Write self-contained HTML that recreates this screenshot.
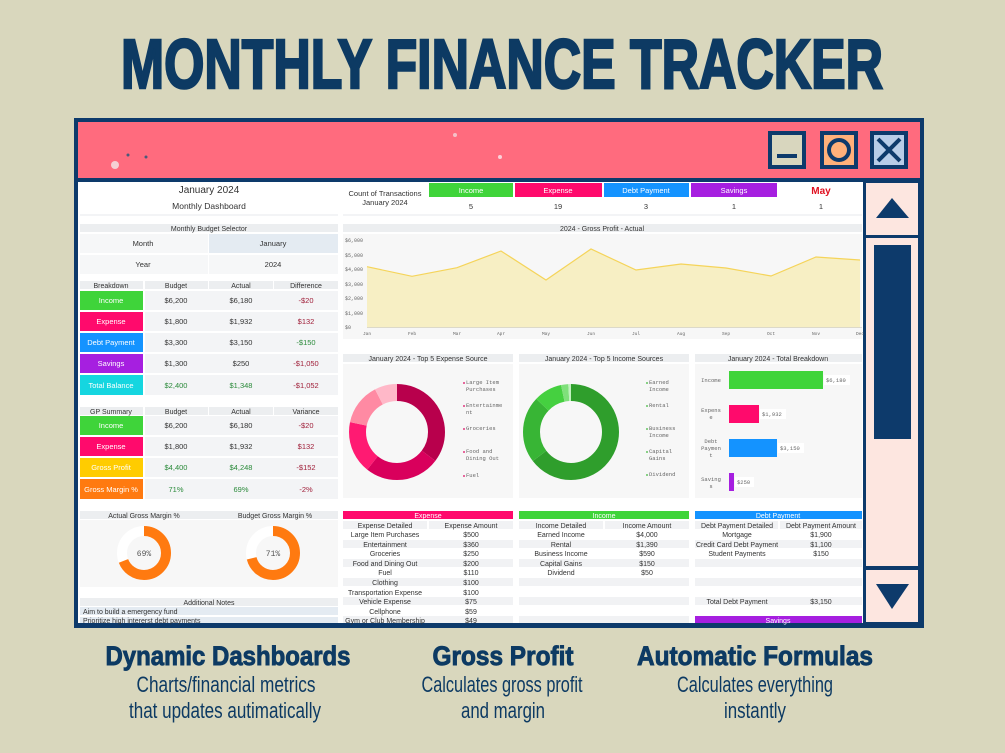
<!DOCTYPE html>
<html><head><meta charset="utf-8"><style>
html,body{margin:0;padding:0;background:#d9d7bd;}
svg{display:block;font-family:"Liberation Sans",sans-serif;}
.m{font-family:"Liberation Mono",monospace;}
</style></head><body>
<svg width="1005" height="753" viewBox="0 0 1005 753" xmlns="http://www.w3.org/2000/svg">
<rect width="1005" height="753" fill="#d9d7bd"/>
<text x="502" y="88" text-anchor="middle" font-size="70" font-weight="bold" fill="#0d3a63" stroke="#0d3a63" stroke-width="2.5" textLength="762" lengthAdjust="spacingAndGlyphs">MONTHLY FINANCE TRACKER</text>

<!-- window -->
<rect x="74" y="118" width="850" height="510" fill="#0d3a6b"/>
<rect x="78" y="122" width="842" height="56" fill="#ff6b7e"/>
<circle cx="115" cy="165" r="4" fill="#f5d0d4"/><circle cx="128" cy="155" r="1.5" fill="#4a5a7a"/><circle cx="146" cy="157" r="1.5" fill="#4a5a7a"/><circle cx="455" cy="135" r="2" fill="#f5c0c8"/><circle cx="500" cy="157" r="2" fill="#fbd0d8"/>
<!-- buttons -->
<rect x="768" y="131" width="38" height="38" fill="#0d3a6b"/><rect x="772" y="135" width="30" height="30" fill="#d8d6be"/><rect x="777" y="154" width="20" height="4" fill="#0d3a6b"/>
<rect x="820" y="131" width="38" height="38" fill="#0d3a6b"/><rect x="824" y="135" width="30" height="30" fill="#ffb07a"/><circle cx="839" cy="150" r="10" fill="none" stroke="#0d3a6b" stroke-width="4"/>
<rect x="870" y="131" width="38" height="38" fill="#0d3a6b"/><rect x="874" y="135" width="30" height="30" fill="#b8cde8"/><path d="M878 139 L900 161 M900 139 L878 161" stroke="#0d3a6b" stroke-width="4"/>
<!-- scrollbar -->
<rect x="866" y="183" width="52" height="52" fill="#fde6e0"/><path d="M876 218 L892 198 L909 218 Z" fill="#0d3a6b"/>
<rect x="866" y="238" width="52" height="328" fill="#fde6e0"/><rect x="874" y="245" width="37" height="194" fill="#0d3a6b"/>
<rect x="866" y="570" width="52" height="52" fill="#fde6e0"/><path d="M876 584 L909 584 L892 609 Z" fill="#0d3a6b"/>
<!-- content -->
<rect x="78" y="182" width="785" height="441" fill="#ffffff"/>

<g font-size="8" fill="#333" text-anchor="middle">
<text x="209" y="193" font-size="10">January 2024</text>
<text x="209" y="209" font-size="8.5">Monthly Dashboard</text>
<rect x="80" y="214" width="258" height="2" fill="#f3f4f6"/>
<rect x="80" y="224" width="258" height="8" fill="#eceef0"/><text x="209" y="231" font-size="7">Monthly Budget Selector</text>
<rect x="80" y="234" width="128" height="19" fill="#f6f7f8"/><rect x="209" y="234" width="129" height="19" fill="#e4ebf2"/>
<rect x="80" y="255" width="128" height="19" fill="#f6f7f8"/><rect x="209" y="255" width="129" height="19" fill="#f6f7f8"/>
<text x="143" y="246" font-size="7.5">Month</text><text x="273" y="246" font-size="7.5">January</text>
<text x="143" y="267" font-size="7.5">Year</text><text x="273" y="267" font-size="7.5">2024</text>
<g fill="#eceef0"><rect x="80" y="281" width="63" height="8"/><rect x="145" y="281" width="63" height="8"/><rect x="209" y="281" width="64" height="8"/><rect x="274" y="281" width="64" height="8"/></g>
<text x="111" y="288" font-size="7">Breakdown</text><text x="176" y="288" font-size="7">Budget</text><text x="241" y="288" font-size="7">Actual</text><text x="306" y="288" font-size="7">Difference</text>
<g fill="#f3f4f6"><rect x="145" y="291" width="193" height="19"/><rect x="145" y="312" width="193" height="19"/><rect x="145" y="333" width="193" height="19"/><rect x="145" y="354" width="193" height="19"/><rect x="145" y="375" width="193" height="20"/></g>
<rect x="80" y="291" width="63" height="19" fill="#3fd43a"/><rect x="80" y="312" width="63" height="19" fill="#ff0a6c"/><rect x="80" y="333" width="63" height="19" fill="#1493ff"/><rect x="80" y="354" width="63" height="19" fill="#a61fe0"/><rect x="80" y="375" width="63" height="20" fill="#15d6e0"/>
<g fill="#fff" font-size="7.5"><text x="111" y="303">Income</text><text x="111" y="324">Expense</text><text x="111" y="345">Debt Payment</text><text x="111" y="366">Savings</text><text x="111" y="388">Total Balance</text></g>
<g font-size="7.5"><text x="176" y="303">$6,200</text><text x="241" y="303">$6,180</text><text x="306" y="303" fill="#a0203a">-$20</text>
<text x="176" y="324">$1,800</text><text x="241" y="324">$1,932</text><text x="306" y="324" fill="#a0203a">$132</text>
<text x="176" y="345">$3,300</text><text x="241" y="345">$3,150</text><text x="306" y="345" fill="#2a8a3a">-$150</text>
<text x="176" y="366">$1,300</text><text x="241" y="366">$250</text><text x="306" y="366" fill="#a0203a">-$1,050</text>
<text x="176" y="388" fill="#2a8a3a">$2,400</text><text x="241" y="388" fill="#2a8a3a">$1,348</text><text x="306" y="388" fill="#a0203a">-$1,052</text></g>
<g fill="#eceef0"><rect x="80" y="407" width="63" height="8"/><rect x="145" y="407" width="63" height="8"/><rect x="209" y="407" width="64" height="8"/><rect x="274" y="407" width="64" height="8"/></g>
<text x="111" y="414" font-size="7">GP Summary</text><text x="176" y="414" font-size="7">Budget</text><text x="241" y="414" font-size="7">Actual</text><text x="306" y="414" font-size="7">Variance</text>
<g fill="#f3f4f6"><rect x="145" y="416" width="193" height="19"/><rect x="145" y="437" width="193" height="19"/><rect x="145" y="458" width="193" height="19"/><rect x="145" y="479" width="193" height="20"/></g>
<rect x="80" y="416" width="63" height="19" fill="#3fd43a"/><rect x="80" y="437" width="63" height="19" fill="#ff0a6c"/><rect x="80" y="458" width="63" height="19" fill="#ffcc00"/><rect x="80" y="479" width="63" height="20" fill="#ff7a10"/>
<g fill="#fff" font-size="7.5"><text x="111" y="428">Income</text><text x="111" y="449">Expense</text><text x="111" y="470">Gross Profit</text><text x="111" y="492">Gross Margin %</text></g>
<g font-size="7.5"><text x="176" y="428">$6,200</text><text x="241" y="428">$6,180</text><text x="306" y="428" fill="#a0203a">-$20</text>
<text x="176" y="449">$1,800</text><text x="241" y="449">$1,932</text><text x="306" y="449" fill="#a0203a">$132</text>
<text x="176" y="470" fill="#2a8a3a">$4,400</text><text x="241" y="470" fill="#2a8a3a">$4,248</text><text x="306" y="470" fill="#a0203a">-$152</text>
<text x="176" y="492" fill="#2a8a3a">71%</text><text x="241" y="492" fill="#2a8a3a">69%</text><text x="306" y="492" fill="#a0203a">-2%</text></g>
<rect x="80" y="511" width="258" height="8" fill="#eceef0"/><text x="144" y="518" font-size="7">Actual  Gross Margin %</text><text x="275" y="518" font-size="7">Budget  Gross Margin %</text>
<rect x="80" y="520" width="258" height="67" fill="#f7f7f7"/>
<circle cx="144" cy="553" r="22" fill="none" stroke="#fff" stroke-width="10"/>
<circle cx="144" cy="553" r="22" fill="none" stroke="#ff7a10" stroke-width="10" stroke-dasharray="95.4 200" transform="rotate(-90 144 553)"/>
<text x="144" y="556" class="m" font-size="8" fill="#555">69%</text>
<circle cx="273" cy="553" r="22" fill="none" stroke="#fff" stroke-width="10"/>
<circle cx="273" cy="553" r="22" fill="none" stroke="#ff7a10" stroke-width="10" stroke-dasharray="98.1 200" transform="rotate(-90 273 553)"/>
<text x="273" y="556" class="m" font-size="8" fill="#555">71%</text>
<rect x="80" y="598" width="258" height="8" fill="#eceef0"/><text x="209" y="605" font-size="7">Additional Notes</text>
<rect x="80" y="607" width="258" height="8" fill="#e4ebf2"/><text x="83" y="614" font-size="7" text-anchor="start">Aim to build a emergency fund</text>
<rect x="80" y="617" width="258" height="6" fill="#e4ebf2"/><text x="83" y="623" font-size="7" text-anchor="start">Prioritize high intererst debt payments</text>

<text x="385" y="196" font-size="7.5">Count of Transactions</text><text x="385" y="205" font-size="7.5">January 2024</text>
<rect x="429" y="183" width="84" height="14" fill="#3fd43a"/><rect x="515" y="183" width="87" height="14" fill="#ff0a6c"/><rect x="604" y="183" width="85" height="14" fill="#1493ff"/><rect x="691" y="183" width="86" height="14" fill="#a61fe0"/>
<g fill="#fff" font-size="7.5"><text x="471" y="193">Income</text><text x="558" y="193">Expense</text><text x="646" y="193">Debt Payment</text><text x="734" y="193">Savings</text></g>
<text x="821" y="194" font-size="10" font-weight="bold" fill="#e01020">May</text>
<g font-size="7.5"><text x="471" y="209">5</text><text x="558" y="209">19</text><text x="646" y="209">3</text><text x="734" y="209">1</text><text x="821" y="209">1</text></g>
<rect x="343" y="214" width="519" height="2" fill="#f3f4f6"/>

<rect x="343" y="224" width="519" height="8" fill="#eceef0"/><text x="602" y="231" font-size="7">2024 - Gross Profit - Actual</text>
<rect x="343" y="234" width="519" height="105" fill="#f7f7f7"/>
<g class="m" font-size="5" fill="#666" text-anchor="start"><text x="345" y="242">$6,000</text><text x="345" y="257">$5,000</text><text x="345" y="271">$4,000</text><text x="345" y="286">$3,000</text><text x="345" y="300">$2,000</text><text x="345" y="315">$1,000</text><text x="345" y="329">$0</text></g>
<path d="M367 327.7 L367 266.7 L412 276.3 L457 267.7 L501 251 L546 280 L591 249 L636 270 L681 264 L726 268 L771 276 L816 257 L860 260 L860 327.7 Z" fill="#f7efc4"/>
<path d="M367 266.7 L412 276.3 L457 267.7 L501 251 L546 280 L591 249 L636 270 L681 264 L726 268 L771 276 L816 257 L860 260" fill="none" stroke="#f5d45a" stroke-width="1.2"/>
<line x1="367" y1="327.7" x2="862" y2="327.7" stroke="#ccc" stroke-width="0.6"/>
<g class="m" font-size="4.5" fill="#666"><text x="367" y="335">Jan</text><text x="412" y="335">Feb</text><text x="457" y="335">Mar</text><text x="501" y="335">Apr</text><text x="546" y="335">May</text><text x="591" y="335">Jun</text><text x="636" y="335">Jul</text><text x="681" y="335">Aug</text><text x="726" y="335">Sep</text><text x="771" y="335">Oct</text><text x="816" y="335">Nov</text><text x="860" y="335">Dec</text></g>

<rect x="343" y="354" width="170" height="8" fill="#eceef0"/><text x="428" y="361" font-size="7">January 2024 - Top 5 Expense Source</text>
<rect x="519" y="354" width="170" height="8" fill="#eceef0"/><text x="604" y="361" font-size="7">January 2024 - Top 5 Income Sources</text>
<rect x="695" y="354" width="167" height="8" fill="#eceef0"/><text x="778" y="361" font-size="7">January 2024 - Total Breakdown</text>
<rect x="343" y="364" width="170" height="134" fill="#f7f7f7"/><rect x="519" y="364" width="170" height="134" fill="#f7f7f7"/><rect x="695" y="364" width="167" height="134" fill="#f7f7f7"/>
<g transform="rotate(-90 397 432)" fill="none" stroke-width="17">
<circle cx="397" cy="432" r="39.5" stroke="#b8004c" stroke-dasharray="87.4 300"/>
<circle cx="397" cy="432" r="39.5" stroke="#d9005c" stroke-dasharray="62.9 300" stroke-dashoffset="-87.4"/>
<circle cx="397" cy="432" r="39.5" stroke="#ff1a72" stroke-dasharray="43.7 300" stroke-dashoffset="-150.3"/>
<circle cx="397" cy="432" r="39.5" stroke="#ff8aa3" stroke-dasharray="35 300" stroke-dashoffset="-194"/>
<circle cx="397" cy="432" r="39.5" stroke="#ffb8c8" stroke-dasharray="19.2 300" stroke-dashoffset="-229"/>
</g>
<g class="m" font-size="5.5" fill="#666" text-anchor="start"><text x="466" y="384">Large Item</text><text x="466" y="391">Purchases</text><text x="466" y="407">Entertainme</text><text x="466" y="414">nt</text><text x="466" y="430">Groceries</text><text x="466" y="453">Food and</text><text x="466" y="460">Dining Out</text><text x="466" y="477">Fuel</text></g>
<g fill="#d9005c"><circle cx="464" cy="383" r="0.9"/><circle cx="464" cy="406" r="0.9"/><circle cx="464" cy="429" r="0.9"/><circle cx="464" cy="452" r="0.9"/><circle cx="464" cy="476" r="0.9"/></g>
<g transform="rotate(-90 571 432)" fill="none" stroke-width="17">
<circle cx="571" cy="432" r="39.5" stroke="#2f9e2c" stroke-dasharray="160.2 300"/>
<circle cx="571" cy="432" r="39.5" stroke="#38b535" stroke-dasharray="55.7 300" stroke-dashoffset="-160.2"/>
<circle cx="571" cy="432" r="39.5" stroke="#45d040" stroke-dasharray="23.6 300" stroke-dashoffset="-215.9"/>
<circle cx="571" cy="432" r="39.5" stroke="#7fe07a" stroke-dasharray="6 300" stroke-dashoffset="-239.5"/>
<circle cx="571" cy="432" r="39.5" stroke="#c2f2bf" stroke-dasharray="2.7 300" stroke-dashoffset="-245.5"/>
</g>
<g class="m" font-size="5.5" fill="#666" text-anchor="start"><text x="649" y="384">Earned</text><text x="649" y="391">Income</text><text x="649" y="407">Rental</text><text x="649" y="430">Business</text><text x="649" y="437">Income</text><text x="649" y="453">Capital</text><text x="649" y="460">Gains</text><text x="649" y="476">Dividend</text></g>
<g fill="#38b535"><circle cx="647" cy="383" r="0.9"/><circle cx="647" cy="406" r="0.9"/><circle cx="647" cy="429" r="0.9"/><circle cx="647" cy="452" r="0.9"/><circle cx="647" cy="475" r="0.9"/></g>
<g class="m" font-size="5.5" fill="#666"><text x="711" y="382">Income</text><text x="711" y="412">Expens</text><text x="711" y="419">e</text><text x="711" y="443">Debt</text><text x="711" y="450">Paymen</text><text x="711" y="457">t</text><text x="711" y="481">Saving</text><text x="711" y="488">s</text></g>
<rect x="729" y="371" width="94" height="18" fill="#3fd43a"/><rect x="729" y="405" width="30" height="18" fill="#ff0a6c"/><rect x="729" y="439" width="48" height="18" fill="#1493ff"/><rect x="729" y="473" width="5" height="18" fill="#a61fe0"/>
<g class="m" font-size="5.5" fill="#666" text-anchor="start"><rect x="824" y="375" width="26" height="10" fill="#fff"/><text x="826" y="382">$6,180</text><rect x="760" y="409" width="26" height="10" fill="#fff"/><text x="762" y="416">$1,932</text><rect x="778" y="443" width="26" height="10" fill="#fff"/><text x="780" y="450">$3,150</text><rect x="735" y="477" width="19" height="10" fill="#fff"/><text x="737" y="484">$250</text></g>

<rect x="343" y="511" width="170" height="8" fill="#ff0a6c"/><text x="428" y="518" font-size="7" fill="#fff">Expense</text>
<rect x="519" y="511" width="170" height="8" fill="#3fd43a"/><text x="604" y="518" font-size="7" fill="#fff">Income</text>
<rect x="695" y="511" width="167" height="8" fill="#1493ff"/><text x="778" y="518" font-size="7" fill="#fff">Debt Payment</text>
<g fill="#f1f2f4">
<rect x="343" y="521" width="84" height="8"/><rect x="429" y="521" width="84" height="8"/><rect x="519" y="521" width="84" height="8"/><rect x="605" y="521" width="84" height="8"/><rect x="695" y="521" width="83" height="8"/><rect x="780" y="521" width="82" height="8"/>
<rect x="343" y="540" width="170" height="8"/><rect x="343" y="559" width="170" height="8"/><rect x="343" y="578" width="170" height="8"/><rect x="343" y="597" width="170" height="8"/><rect x="343" y="616" width="170" height="7"/>
<rect x="519" y="540" width="170" height="8"/><rect x="519" y="559" width="170" height="8"/><rect x="519" y="578" width="170" height="8"/><rect x="519" y="597" width="170" height="8"/><rect x="519" y="616" width="170" height="7"/>
<rect x="695" y="540" width="167" height="8"/><rect x="695" y="559" width="167" height="8"/><rect x="695" y="578" width="167" height="8"/><rect x="695" y="597" width="167" height="8"/>
</g>
<g font-size="7">
<text x="385" y="528">Expense Detailed</text><text x="471" y="528">Expense Amount</text>
<text x="385" y="537">Large Item Purchases</text><text x="471" y="537">$500</text>
<text x="385" y="547">Entertainment</text><text x="471" y="547">$360</text>
<text x="385" y="556">Groceries</text><text x="471" y="556">$250</text>
<text x="385" y="566">Food and Dining Out</text><text x="471" y="566">$200</text>
<text x="385" y="575">Fuel</text><text x="471" y="575">$110</text>
<text x="385" y="585">Clothing</text><text x="471" y="585">$100</text>
<text x="385" y="595">Transportation Expense</text><text x="471" y="595">$100</text>
<text x="385" y="604">Vehicle Expense</text><text x="471" y="604">$75</text>
<text x="385" y="614">Cellphone</text><text x="471" y="614">$59</text>
<text x="385" y="623">Gym or Club Membership</text><text x="471" y="623">$49</text>
<text x="561" y="528">Income Detailed</text><text x="647" y="528">Income Amount</text>
<text x="561" y="537">Earned Income</text><text x="647" y="537">$4,000</text>
<text x="561" y="547">Rental</text><text x="647" y="547">$1,390</text>
<text x="561" y="556">Business Income</text><text x="647" y="556">$590</text>
<text x="561" y="566">Capital Gains</text><text x="647" y="566">$150</text>
<text x="561" y="575">Dividend</text><text x="647" y="575">$50</text>
<text x="737" y="528">Debt Payment Detailed</text><text x="821" y="528">Debt Payment Amount</text>
<text x="737" y="537">Mortgage</text><text x="821" y="537">$1,900</text>
<text x="737" y="547">Credit Card Debt Payment</text><text x="821" y="547">$1,100</text>
<text x="737" y="556">Student Payments</text><text x="821" y="556">$150</text>
<text x="737" y="604">Total Debt Payment</text><text x="821" y="604">$3,150</text>
</g>
<rect x="695" y="616" width="167" height="7" fill="#a61fe0"/><text x="778" y="623" font-size="7" fill="#fff">Savings</text>
</g>

<g fill="#0d3a63" text-anchor="middle">
<g stroke="#0d3a63" stroke-width="0.9">
<text x="228" y="665" font-size="27" font-weight="bold" textLength="245" lengthAdjust="spacingAndGlyphs">Dynamic Dashboards</text>
<text x="503" y="665" font-size="27" font-weight="bold" textLength="141" lengthAdjust="spacingAndGlyphs">Gross Profit</text>
<text x="755" y="665" font-size="27" font-weight="bold" textLength="236" lengthAdjust="spacingAndGlyphs">Automatic Formulas</text>
</g>
<g font-size="22">
<text x="226" y="692" textLength="179" lengthAdjust="spacingAndGlyphs">Charts/financial metrics</text>
<text x="225" y="718" textLength="192" lengthAdjust="spacingAndGlyphs">that updates autimatically</text>
<text x="502" y="692" textLength="161" lengthAdjust="spacingAndGlyphs">Calculates gross profit</text>
<text x="503" y="718" textLength="84" lengthAdjust="spacingAndGlyphs">and margin</text>
<text x="755" y="692" textLength="156" lengthAdjust="spacingAndGlyphs">Calculates everything</text>
<text x="755" y="718" textLength="62" lengthAdjust="spacingAndGlyphs">instantly</text>
</g></g>
</svg>
</body></html>
